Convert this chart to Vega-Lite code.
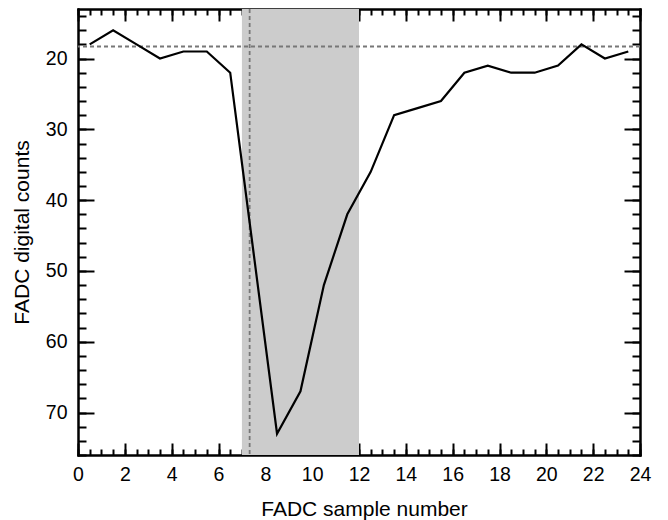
{
  "$schema": "https://vega.github.io/schema/vega-lite/v6.json",
  "width": 562,
  "height": 446,
  "autosize": {"type": "none"},
  "padding": {"left": 78, "top": 9, "right": 28, "bottom": 65},
  "background": "white",
  "config": {
    "view": {"stroke": null},
    "font": "Liberation Sans",
    "axis": {
      "domainColor": "black",
      "tickColor": "black",
      "domainWidth": 2,
      "tickWidth": 2,
      "domainCap": "square",
      "labelColor": "black",
      "titleColor": "black",
      "labelFont": "Liberation Sans",
      "titleFont": "Liberation Sans",
      "labelFontSize": 19.5,
      "titleFontSize": 21,
      "titleFontWeight": "normal",
      "grid": false,
      "labelOverlap": false,
      "labelFlush": false
    }
  },
  "datasets": {
    "trace": [
      {"sample": 0.5, "counts": 18},
      {"sample": 1.5, "counts": 16},
      {"sample": 2.5, "counts": 18},
      {"sample": 3.5, "counts": 20},
      {"sample": 4.5, "counts": 19},
      {"sample": 5.5, "counts": 19},
      {"sample": 6.5, "counts": 22},
      {"sample": 7.5, "counts": 47.5},
      {"sample": 8.5, "counts": 73},
      {"sample": 9.5, "counts": 67},
      {"sample": 10.5, "counts": 52},
      {"sample": 11.5, "counts": 42},
      {"sample": 12.5, "counts": 36},
      {"sample": 13.5, "counts": 28},
      {"sample": 14.5, "counts": 27},
      {"sample": 15.5, "counts": 26},
      {"sample": 16.5, "counts": 22},
      {"sample": 17.5, "counts": 21},
      {"sample": 18.5, "counts": 22},
      {"sample": 19.5, "counts": 22},
      {"sample": 20.5, "counts": 21},
      {"sample": 21.5, "counts": 18},
      {"sample": 22.5, "counts": 20},
      {"sample": 23.5, "counts": 19}
    ],
    "band": [{"start": 7, "end": 12}],
    "pedestal": [{"level": 18.3}],
    "peak": [{"time": 7.33}]
  },
  "layer": [
    {
      "data": {"name": "band"},
      "mark": {"type": "rect", "color": "#cccccc"},
      "encoding": {
        "x": {"field": "start", "type": "quantitative", "scale": {"domain": [0, 24], "nice": false, "zero": false}, "axis": null},
        "x2": {"field": "end"}
      }
    },
    {
      "data": {"name": "pedestal"},
      "mark": {"type": "rule", "color": "#777777", "strokeDash": [4, 3], "strokeWidth": 1.8},
      "encoding": {
        "y": {"field": "level", "type": "quantitative", "scale": {"domain": [13, 76], "nice": false, "zero": false, "reverse": true}, "axis": null}
      }
    },
    {
      "data": {"name": "peak"},
      "mark": {"type": "rule", "color": "#777777", "strokeDash": [4, 3], "strokeWidth": 1.8},
      "encoding": {
        "x": {"field": "time", "type": "quantitative", "scale": {"domain": [0, 24], "nice": false, "zero": false}, "axis": null}
      }
    },
    {
      "data": {"name": "trace"},
      "mark": {"type": "line", "color": "black", "strokeWidth": 2.2},
      "encoding": {
        "x": {
          "field": "sample", "type": "quantitative",
          "scale": {"domain": [0, 24], "nice": false, "zero": false},
          "axis": {"orient": "bottom", "values": [0, 2, 4, 6, 8, 10, 12, 14, 16, 18, 20, 22, 24], "format": "d", "tickSize": -12, "labelPadding": 22, "title": "FADC sample number", "titlePadding": 15, "titleX": 286}
        },
        "y": {
          "field": "counts", "type": "quantitative",
          "scale": {"domain": [13, 76], "nice": false, "zero": false, "reverse": true},
          "axis": {"orient": "left", "values": [20, 30, 40, 50, 60, 70], "format": "d", "tickSize": -16, "labelPadding": 27, "title": "FADC digital counts", "titlePadding": 13}
        }
      }
    },
    {
      "data": {"name": "trace"},
      "mark": {"type": "point", "opacity": 0},
      "encoding": {
        "x": {
          "field": "sample", "type": "quantitative",
          "scale": {"domain": [0, 24], "nice": false, "zero": false},
          "axis": {"orient": "top", "values": [0, 2, 4, 6, 8, 10, 12, 14, 16, 18, 20, 22, 24], "tickSize": -12, "labels": false, "title": null}
        },
        "y": {
          "field": "counts", "type": "quantitative",
          "scale": {"domain": [13, 76], "nice": false, "zero": false, "reverse": true},
          "axis": {"orient": "right", "values": [20, 30, 40, 50, 60, 70], "tickSize": -16, "labels": false, "title": null}
        }
      }
    },
    {
      "data": {"name": "trace"},
      "mark": {"type": "point", "opacity": 0},
      "encoding": {
        "x": {
          "field": "sample", "type": "quantitative",
          "scale": {"domain": [0, 24], "nice": false, "zero": false},
          "axis": {"orient": "bottom", "values": [0, 0.5, 1, 1.5, 2, 2.5, 3, 3.5, 4, 4.5, 5, 5.5, 6, 6.5, 7, 7.5, 8, 8.5, 9, 9.5, 10, 10.5, 11, 11.5, 12, 12.5, 13, 13.5, 14, 14.5, 15, 15.5, 16, 16.5, 17, 17.5, 18, 18.5, 19, 19.5, 20, 20.5, 21, 21.5, 22, 22.5, 23, 23.5, 24], "tickSize": -6, "labels": false, "title": null}
        },
        "y": {
          "field": "counts", "type": "quantitative",
          "scale": {"domain": [13, 76], "nice": false, "zero": false, "reverse": true},
          "axis": {"orient": "left", "values": [14, 16, 18, 20, 22, 24, 26, 28, 30, 32, 34, 36, 38, 40, 42, 44, 46, 48, 50, 52, 54, 56, 58, 60, 62, 64, 66, 68, 70, 72, 74, 76], "tickSize": -8, "labels": false, "title": null}
        }
      }
    },
    {
      "data": {"name": "trace"},
      "mark": {"type": "point", "opacity": 0},
      "encoding": {
        "x": {
          "field": "sample", "type": "quantitative",
          "scale": {"domain": [0, 24], "nice": false, "zero": false},
          "axis": {"orient": "top", "values": [0, 0.5, 1, 1.5, 2, 2.5, 3, 3.5, 4, 4.5, 5, 5.5, 6, 6.5, 7, 7.5, 8, 8.5, 9, 9.5, 10, 10.5, 11, 11.5, 12, 12.5, 13, 13.5, 14, 14.5, 15, 15.5, 16, 16.5, 17, 17.5, 18, 18.5, 19, 19.5, 20, 20.5, 21, 21.5, 22, 22.5, 23, 23.5, 24], "tickSize": -6, "labels": false, "title": null}
        },
        "y": {
          "field": "counts", "type": "quantitative",
          "scale": {"domain": [13, 76], "nice": false, "zero": false, "reverse": true},
          "axis": {"orient": "right", "values": [14, 16, 18, 20, 22, 24, 26, 28, 30, 32, 34, 36, 38, 40, 42, 44, 46, 48, 50, 52, 54, 56, 58, 60, 62, 64, 66, 68, 70, 72, 74, 76], "tickSize": -8, "labels": false, "title": null}
        }
      }
    }
  ],
  "resolve": {"axis": {"x": "independent", "y": "independent"}}
}
